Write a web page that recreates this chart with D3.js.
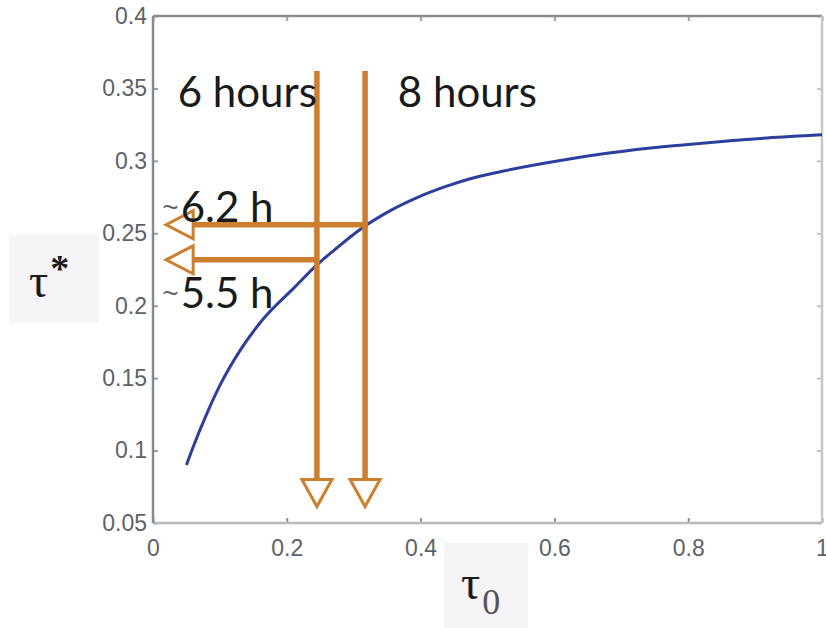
<!DOCTYPE html>
<html>
<head>
<meta charset="utf-8">
<script src="https://cdn.jsdelivr.net/npm/d3@7"></script>
<style>
  body { margin: 0; background: #fff; }
  svg { display: block; }
</style>
</head>
<body>
<div id="chart"></div>
<script>
// curve tau* vs tau0
const tau0 = [0.05, 0.06, 0.08, 0.10, 0.13, 0.165, 0.21, 0.247, 0.275, 0.309, 0.354, 0.394, 0.439, 0.469, 0.519, 0.568, 0.618, 0.668, 0.717, 0.792, 0.867, 0.918, 1.0];
const tauStar = [0.090, 0.1025, 0.125, 0.145, 0.169, 0.191, 0.212, 0.229, 0.240, 0.2525, 0.2655, 0.2745, 0.2825, 0.287, 0.2925, 0.297, 0.301, 0.3045, 0.3075, 0.311, 0.314, 0.3158, 0.318];

const xTicks = [0, 0.2, 0.4, 0.6, 0.8, 1];
const yTicks = [0.05, 0.1, 0.15, 0.2, 0.25, 0.3, 0.35, 0.4];

// annotation arrows (data units)
const hourLabels = ["6 hours", "8 hours"];
const hourX = [0.245, 0.317];
const hourLabelX = [0.037, 0.366];
const arrowTop = 0.362;
const arrowBottom = 0.08;

const estLabels = ["6.2 h", "5.5 h"];
const estY = [0.2559, 0.2317];
const estLineEnd = [0.321, 0.247];
const estLabelY = [0.258, 0.1986];
const estArrowStart = 0.06;

let width = 826, height = 628;
let margin = ({top: 16, right: 4, bottom: 105, left: 153});
let orange = "#cc7f2e";

let x = d3.scaleLinear().domain([0, 1]).range([margin.left, width - margin.right]);
let y = d3.scaleLinear().domain([0.05, 0.4]).range([height - margin.bottom, margin.top]);

const svg = d3.select("#chart").append("svg")
    .attr("width", width)
    .attr("height", height);

// axes
let tickFmt = d => d3.format("")(+d.toFixed(2));
svg.append("g")
    .attr("transform", `translate(0,${y(0.05)})`)
    .call(d3.axisBottom(x).tickValues(xTicks).tickSize(-5).tickPadding(17).tickFormat(tickFmt))
    .call(g => g.select(".domain").remove())
    .call(g => g.selectAll("line").attr("stroke", "#8a8e92").attr("stroke-width", 2))
    .call(g => g.selectAll("text").attr("font-family", "Liberation Sans").attr("font-size", 23).attr("fill", "#5c6267"));

svg.append("g")
    .attr("transform", `translate(${x(0)},0)`)
    .call(d3.axisLeft(y).tickValues(yTicks).tickSize(-5).tickPadding(6).tickFormat(tickFmt))
    .call(g => g.select(".domain").remove())
    .call(g => g.selectAll("line").attr("stroke", "#9a9ea2").attr("stroke-width", 2))
    .call(g => g.selectAll("text").attr("font-family", "Liberation Sans").attr("font-size", 23).attr("fill", "#5c6267"));

// mirrored ticks on top and right
svg.append("g")
    .attr("transform", `translate(0,${y(0.4)})`)
    .call(d3.axisTop(x).tickValues(xTicks).tickSize(-5).tickFormat(""))
    .call(g => g.select(".domain").remove())
    .call(g => g.selectAll("line").attr("stroke", "#9a9ea2").attr("stroke-width", 2));
svg.append("g")
    .attr("transform", `translate(${x(1)},0)`)
    .call(d3.axisRight(y).tickValues(yTicks).tickSize(-5).tickFormat(""))
    .call(g => g.select(".domain").remove())
    .call(g => g.selectAll("line").attr("stroke", "#c0c4c8").attr("stroke-width", 2));

// frame
svg.append("line").attr("x1", x(0)).attr("x2", x(1)).attr("y1", y(0.4)).attr("y2", y(0.4))
    .attr("stroke", "#8a8e92").attr("stroke-width", 2.5);
svg.append("line").attr("x1", x(0)).attr("x2", x(1)).attr("y1", y(0.05)).attr("y2", y(0.05))
    .attr("stroke", "#b6babe").attr("stroke-width", 2.5);
svg.append("line").attr("x1", x(0)).attr("x2", x(0)).attr("y1", y(0.4)).attr("y2", y(0.05))
    .attr("stroke", "#878b8f").attr("stroke-width", 2.5);
svg.append("line").attr("x1", x(1)).attr("x2", x(1)).attr("y1", y(0.4)).attr("y2", y(0.05))
    .attr("stroke", "#c4c8cc").attr("stroke-width", 2.5);

// curve
let line = d3.line().x((d, i) => x(d)).y((d, i) => y(tauStar[i])).curve(d3.curveMonotoneX);
svg.append("path")
    .attr("d", line(tau0))
    .attr("fill", "none")
    .attr("stroke", "#2c3f9c")
    .attr("stroke-width", 3);

// vertical arrows
let headLen = 27, headHalf = 15;
hourX.forEach(function(v) {
  svg.append("line")
    .attr("x1", x(v)).attr("x2", x(v))
    .attr("y1", y(arrowTop)).attr("y2", y(arrowBottom))
    .attr("stroke", orange).attr("stroke-width", 5.5);
  let bx = x(v), by = y(arrowBottom);
  svg.append("path")
    .attr("d", `M${bx - headHalf},${by}L${bx + headHalf},${by}L${bx},${by + headLen}Z`)
    .attr("fill", "#fff").attr("stroke", orange).attr("stroke-width", 3).attr("stroke-linejoin", "miter");
});

// horizontal arrows
estY.forEach(function(v, i) {
  svg.append("line")
    .attr("x1", x(estArrowStart)).attr("x2", x(estLineEnd[i]))
    .attr("y1", y(v)).attr("y2", y(v))
    .attr("stroke", orange).attr("stroke-width", 5.5);
  let bx = x(estArrowStart), by = y(v);
  svg.append("path")
    .attr("d", `M${bx},${by - headHalf + 1}L${bx},${by + headHalf - 1}L${bx - headLen},${by}Z`)
    .attr("fill", "#fff").attr("stroke", orange).attr("stroke-width", 3);
});

// labels
svg.selectAll(".hours")
  .data(hourLabels)
  .join("text")
    .attr("x", (d, i) => x(hourLabelX[i]))
    .attr("y", y(0.337))
    .attr("font-family", "Lato")
    .attr("font-size", 42)
    .attr("fill", "#1a1a1a")
    .text(d => d);

estLabels.forEach(function(d, i) {
  let t = svg.append("text")
    .attr("x", x(0.014))
    .attr("y", y(estLabelY[i]))
    .attr("font-family", "Lato")
    .attr("font-size", 42)
    .attr("fill", "#1a1a1a");
  t.append("tspan").attr("font-family", "Liberation Sans").attr("font-size", 28)
    .attr("fill", "#666").attr("dy", -5).text("~");
  t.append("tspan").attr("dy", 5).attr("dx", 2).text(d);
});

// axis titles in shaded boxes
svg.append("rect").attr("x", 9).attr("y", 235).attr("width", 90).attr("height", 88).attr("fill", "#f6f4f7");
let yl = svg.append("text").attr("x", 29).attr("y", 297)
    .attr("font-family", "Liberation Serif").attr("font-size", 48).attr("fill", "#1a1a1a");
yl.append("tspan").text("τ");
yl.append("tspan").attr("font-size", 38).attr("font-weight", "bold").attr("dy", -16).attr("dx", 2).text("*");

svg.append("rect").attr("x", 444).attr("y", 543).attr("width", 84).attr("height", 85).attr("fill", "#f6f4f7");
let xl = svg.append("text").attr("x", 461).attr("y", 599)
    .attr("font-family", "Liberation Serif").attr("font-size", 48).attr("fill", "#1a1a1a");
xl.append("tspan").text("τ");
xl.append("tspan").attr("font-size", 36).attr("dy", 15).attr("dx", 2).attr("fill", "#555").text("0");
</script>
</body>
</html>
